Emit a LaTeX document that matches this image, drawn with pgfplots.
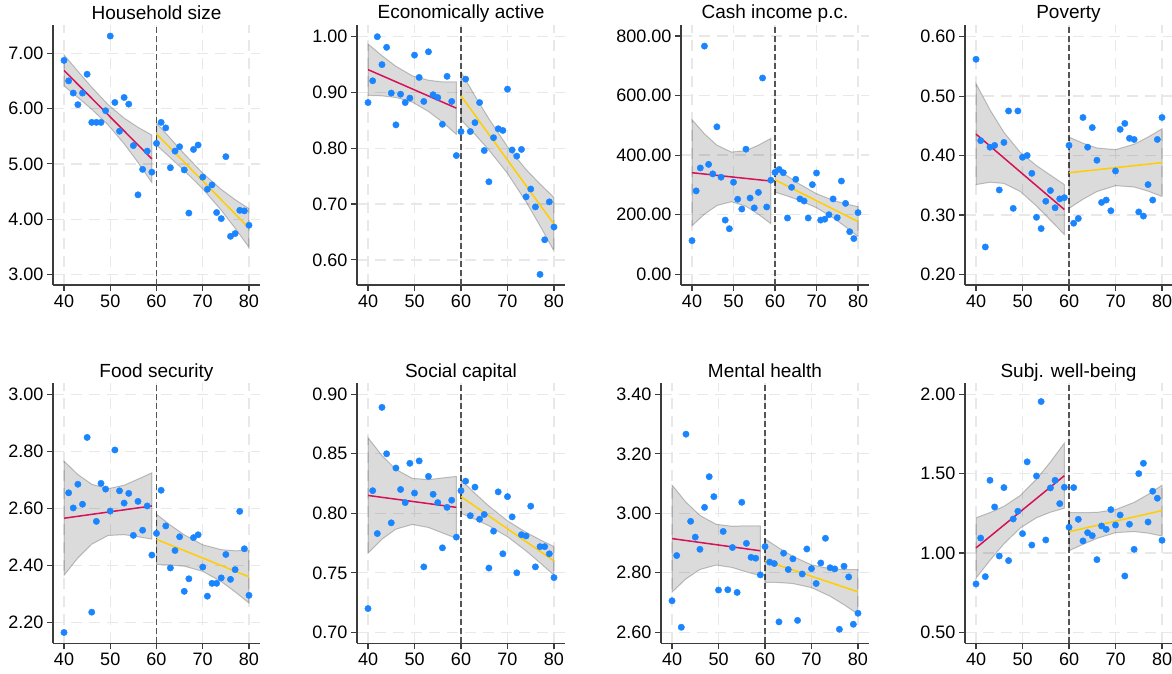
\documentclass[border=0pt]{standalone}
\usepackage{fontspec}
\setmainfont{Liberation Sans}
\usepackage{pgfplots}
\pgfplotsset{compat=1.18}
\definecolor{cdot}{RGB}{26,133,255}
\definecolor{cred}{RGB}{212,17,89}
\definecolor{cyel}{RGB}{255,205,0}
\definecolor{cgrid}{RGB}{232,232,232}
\definecolor{caxis}{RGB}{60,60,60}
\definecolor{ccut}{RGB}{85,85,85}
\pgfplotsset{
 every axis title/.style={at={(0.5,1)}, anchor=base, font=\fontsize{19}{22}\selectfont},
 rd/.style={
  scale only axis, height=260pt, anchor=south west,
  axis x line*=bottom, axis y line*=left,
  axis line style={caxis, line width=1.2pt},
  tick style={caxis, line width=1.2pt},
  tick align=outside, major tick length=6pt,
  xtick={40,50,60,70,80},
  grid=major,
  major grid style={cgrid, line width=1.3pt, dash pattern=on 11pt off 7pt},
  /pgf/number format/assume math mode=true,
  tick label style={font=\fontsize{18}{20}\selectfont, text=black},
  yticklabel style={/pgf/number format/fixed, /pgf/number format/fixed zerofill, /pgf/number format/precision=2},
  xticklabel style={/pgf/number format/fixed, /pgf/number format/precision=0},
  title style={yshift=6pt},
 },
 dots/.style={only marks, color=cdot, mark=*, mark size=3.2pt, mark options={solid, draw=cdot, fill=cdot, line width=0.4pt}},
 band/.style={fill=black, fill opacity=0.14, draw=black, draw opacity=0.22, line width=1pt},
 lred/.style={cred, line width=1.5pt},
 lyel/.style={cyel, line width=1.5pt},
 cut/.style={ccut, line width=1.8pt, dash pattern=on 6pt off 3pt},
}
\begin{document}
\begin{tikzpicture}
\useasboundingbox (0pt,0pt) rectangle (1172pt,673pt);

% Panel 1
\begin{axis}[rd, at={(53pt,388pt)}, width=207pt, xmin=37.62, xmax=82.38, ymin=2.81, ymax=7.51,
  ytick={3,4,5,6,7}, title={Household size}]
\addplot[cut] coordinates {(60,2.81)(60,7.51)};
\addplot[dots] coordinates {(40,6.87)(41,6.50)(42,6.28)(43,6.07)(44,6.28)(45,6.62)(46,5.75)(47,5.75)(48,5.75)(49,5.96)(50,7.31)(51,6.11)(52,5.59)(53,6.20)(54,6.08)(55,5.33)(56,4.44)(57,4.90)(58,5.23)(59,4.85)(60,5.37)(61,5.75)(62,5.65)(63,4.93)(64,5.23)(65,5.31)(66,4.89)(67,4.11)(68,5.26)(69,5.34)(70,4.76)(71,4.54)(72,4.62)(73,4.12)(74,4.01)(75,5.13)(76,3.69)(77,3.74)(78,4.16)(79,4.15)(80,3.89)};
\addplot[band] coordinates {(40,6.97)(43,6.675)(46,6.384)(49.5,6.074)(53,5.827)(56,5.661)(59,5.52)(59,4.66)(56,5.025)(53,5.363)(49.5,5.706)(46,5.986)(43,6.199)(40,6.41)} --cycle;
\addplot[band] coordinates {(60,5.74)(63,5.461)(66,5.182)(70,4.832)(74,4.539)(77,4.354)(80,4.19)(80,3.49)(77,3.836)(74,4.161)(70,4.548)(66,4.878)(63,5.109)(60,5.34)} --cycle;
\addplot[lred] coordinates {(40,6.69)(59,5.09)};
\addplot[lyel] coordinates {(60,5.54)(80,3.84)};
\end{axis}

% Panel 2
\begin{axis}[rd, at={(357pt,388pt)}, width=208pt, xmin=37.63, xmax=82.37, ymin=0.555, ymax=1.021,
  ytick={0.6,0.7,0.8,0.9,1.0}, title={Economically active}]
\addplot[cut] coordinates {(60,0.555)(60,1.021)};
\addplot[dots] coordinates {(40,.882)(41,.921)(42,1.000)(43,.950)(44,.981)(45,.899)(46,.842)(47,.897)(48,.882)(49,.890)(50,.967)(51,.927)(52,.884)(53,.973)(54,.896)(55,.891)(56,.843)(57,.929)(58,.884)(59,.787)(60,.830)(61,.924)(62,.830)(63,.846)(64,.882)(65,.796)(66,.740)(67,.819)(68,.835)(69,.832)(70,.906)(71,.797)(72,.786)(73,.798)(74,.713)(75,.727)(76,.695)(77,.574)(78,.636)(79,.704)(80,.659)};
\addplot[band] coordinates {(40,.987)(43,.966)(46,.947)(49.5,.930)(53,.922)(56,.919)(59,.919)(59,.825)(56,.847)(53,.866)(49.5,.883)(46,.891)(43,.894)(40,.895)} --cycle;
\addplot[band] coordinates {(60,.937)(63,.894)(66,.853)(70,.803)(74,.762)(77,.736)(80,.712)(80,.616)(77,.661)(74,.704)(70,.755)(66,.797)(63,.825)(60,.851)} --cycle;
\addplot[lred] coordinates {(40,.941)(59,.872)};
\addplot[lyel] coordinates {(60,.894)(80,.664)};
\end{axis}

% Panel 3
\begin{axis}[rd, at={(681pt,388pt)}, width=188pt, xmin=37.35, xmax=82.65, ymin=-35.9, ymax=836.9,
  ytick={0,200,400,600,800}, title={Cash income p.c.}]
\addplot[cut] coordinates {(60,-35.9)(60,836.9)};
\addplot[dots] coordinates {(40,113)(41,280)(42,357)(43,766)(44,369)(45,337)(46,495)(47,326)(48,182)(49,153)(50,309)(51,252)(52,219)(53,420)(54,256)(55,223)(56,275)(57,659)(58,226)(59,316)(60,342)(61,352)(62,341)(63,189)(64,292)(65,319)(66,253)(67,246)(68,189)(69,301)(70,340)(71,182)(72,185)(73,200)(74,253)(75,190)(76,313)(77,238)(78,143)(79,120)(80,207)};
\addplot[band] coordinates {(40,519)(43,471.5)(46,433.5)(49.5,410.3)(53,415.3)(56,433.5)(59,456)(59,170)(56,201.3)(53,228.3)(49.5,243.7)(46,230.9)(43,201.7)(40,163)} --cycle;
\addplot[band] coordinates {(60,358)(63,329.5)(66,302.1)(70,270.6)(74,248.4)(77,236.5)(80,227)(80,127)(77,159.5)(74,189.6)(70,223.4)(66,247.9)(63,262.5)(60,276)} --cycle;
\addplot[lred] coordinates {(40,341)(59,313)};
\addplot[lyel] coordinates {(60,317)(80,177)};
\end{axis}

% Panel 4
\begin{axis}[rd, at={(965pt,388pt)}, width=207pt, xmin=37.63, xmax=82.15, ymin=0.182, ymax=0.6197,
  ytick={0.2,0.3,0.4,0.5,0.6}, title={Poverty}]
\addplot[cut] coordinates {(60,0.182)(60,0.6197)};
\addplot[dots] coordinates {(40,.562)(41,.425)(42,.246)(43,.414)(44,.417)(45,.342)(46,.422)(47,.475)(48,.311)(49,.475)(50,.397)(51,.400)(52,.370)(53,.296)(54,.277)(55,.323)(56,.341)(57,.312)(58,.327)(59,.329)(60,.417)(61,.286)(62,.294)(63,.464)(64,.414)(65,.447)(66,.392)(67,.321)(68,.325)(69,.307)(70,.374)(71,.444)(72,.454)(73,.429)(74,.427)(75,.305)(76,.298)(77,.351)(78,.325)(79,.427)(80,.464)};
\addplot[band] coordinates {(40,.521)(43,.477)(46,.439)(49.5,.4055)(53,.383)(56,.367)(59,.351)(59,.267)(56,.291)(53,.315)(49.5,.3395)(46,.353)(43,.355)(40,.351)} --cycle;
\addplot[band] coordinates {(60,.431)(63,.4207)(66,.4127)(70,.4098)(74,.419)(77,.431)(80,.445)(80,.331)(77,.340)(74,.347)(70,.3492)(66,.3393)(63,.3263)(60,.311)} --cycle;
\addplot[lred] coordinates {(40,.436)(59,.309)};
\addplot[lyel] coordinates {(60,.371)(80,.388)};
\end{axis}

% Panel 5
\begin{axis}[rd, at={(53pt,29.7pt)}, width=207pt, xmin=37.62, xmax=82.38, ymin=2.128, ymax=3.0385,
  ytick={2.2,2.4,2.6,2.8,3.0}, title={Food security}]
\addplot[cut] coordinates {(60,2.128)(60,3.0385)};
\addplot[dots] coordinates {(40,2.166)(41,2.655)(42,2.602)(43,2.685)(44,2.615)(45,2.849)(46,2.237)(47,2.555)(48,2.688)(49,2.668)(50,2.591)(51,2.805)(52,2.662)(53,2.619)(54,2.653)(55,2.506)(56,2.625)(57,2.524)(58,2.609)(59,2.437)(60,2.513)(61,2.664)(62,2.539)(63,2.392)(64,2.453)(65,2.501)(66,2.310)(67,2.354)(68,2.498)(69,2.508)(70,2.395)(71,2.293)(72,2.338)(73,2.338)(74,2.357)(75,2.439)(76,2.352)(77,2.386)(78,2.590)(79,2.459)(80,2.296)};
\addplot[band] coordinates {(40,2.766)(43,2.719)(46,2.685)(49.5,2.6695)(53,2.6815)(56,2.703)(59,2.725)(59,2.493)(56,2.501)(53,2.5085)(49.5,2.5055)(46,2.475)(43,2.427)(40,2.366)} --cycle;
\addplot[band] coordinates {(60,2.580)(63,2.542)(66,2.508)(70,2.473)(74,2.456)(77,2.452)(80,2.453)(80,2.269)(77,2.308)(74,2.344)(70,2.380)(66,2.398)(63,2.402)(60,2.404)} --cycle;
\addplot[lred] coordinates {(40,2.566)(59,2.609)};
\addplot[lyel] coordinates {(60,2.492)(80,2.361)};
\end{axis}

% Panel 6
\begin{axis}[rd, at={(357pt,29.7pt)}, width=208pt, xmin=37.63, xmax=82.37, ymin=0.6908, ymax=0.9092,
  ytick={0.70,0.75,0.80,0.85,0.90}, title={Social capital}]
\addplot[cut] coordinates {(60,0.6908)(60,0.9092)};
\addplot[dots] coordinates {(40,.720)(41,.819)(42,.783)(43,.889)(44,.850)(45,.792)(46,.838)(47,.820)(48,.809)(49,.842)(50,.817)(51,.844)(52,.755)(53,.831)(54,.816)(55,.809)(56,.771)(57,.805)(58,.811)(59,.780)(60,.819)(61,.827)(62,.798)(63,.822)(64,.795)(65,.799)(66,.754)(67,.785)(68,.818)(69,.766)(70,.814)(71,.797)(72,.750)(73,.782)(74,.781)(75,.806)(76,.755)(77,.772)(78,.772)(79,.766)(80,.746)};
\addplot[band] coordinates {(40,.8635)(43,.8485)(46,.8369)(49.5,.8294)(53,.8283)(56,.8297)(59,.831)(59,.779)(56,.7835)(53,.7881)(49.5,.7906)(46,.7867)(43,.7783)(40,.7665)} --cycle;
\addplot[band] coordinates {(60,.828)(63,.8168)(66,.8061)(70,.7937)(74,.7840)(77,.7778)(80,.772)(80,.748)(77,.7584)(74,.7684)(70,.7803)(66,.7895)(63,.7950)(60,.800)} --cycle;
\addplot[lred] coordinates {(40,.815)(59,.805)};
\addplot[lyel] coordinates {(60,.814)(80,.760)};
\end{axis}

% Panel 7
\begin{axis}[rd, at={(661pt,29.7pt)}, width=208pt, xmin=37.63, xmax=82.37, ymin=2.563, ymax=3.437,
  ytick={2.6,2.8,3.0,3.2,3.4}, title={Mental health}]
\addplot[cut] coordinates {(60,2.563)(60,3.437)};
\addplot[dots] coordinates {(40,2.706)(41,2.858)(42,2.617)(43,3.266)(44,2.973)(45,2.920)(46,2.879)(47,3.020)(48,3.123)(49,3.056)(50,2.742)(51,2.939)(52,2.743)(53,2.885)(54,2.734)(55,3.037)(56,2.899)(57,2.852)(58,2.849)(59,2.793)(60,2.888)(61,2.836)(62,2.831)(63,2.635)(64,2.866)(65,2.811)(66,2.847)(67,2.640)(68,2.796)(69,2.880)(70,2.814)(71,2.764)(72,2.833)(73,2.916)(74,2.817)(75,2.813)(76,2.610)(77,2.822)(78,2.786)(79,2.627)(80,2.664)};
\addplot[band] coordinates {(40,3.095)(43,3.0374)(46,2.9929)(49.5,2.963)(53,2.9564)(56,2.9581)(59,2.958)(59,2.790)(56,2.8029)(53,2.8176)(49.5,2.826)(46,2.8111)(43,2.7796)(40,2.735)} --cycle;
\addplot[band] coordinates {(60,2.914)(63,2.8833)(66,2.8552)(70,2.8268)(74,2.8137)(77,2.811)(80,2.811)(80,2.661)(77,2.6926)(74,2.7213)(70,2.7502)(66,2.7638)(63,2.7673)(60,2.768)} --cycle;
\addplot[lred] coordinates {(40,2.915)(59,2.874)};
\addplot[lyel] coordinates {(60,2.841)(80,2.736)};
\end{axis}

% Panel 8
\begin{axis}[rd, at={(965pt,29.7pt)}, width=207pt, xmin=37.63, xmax=82.15, ymin=0.431, ymax=2.069,
  ytick={0.5,1.0,1.5,2.0}, title={Subj. well-being}]
\addplot[cut] coordinates {(60,0.431)(60,2.069)};
\addplot[dots] coordinates {(40,.805)(41,1.094)(42,.851)(43,1.458)(44,1.290)(45,.981)(46,1.412)(47,.952)(48,1.214)(49,1.263)(50,1.122)(51,1.574)(52,1.050)(53,1.485)(54,1.954)(55,1.082)(56,1.410)(57,1.458)(58,1.311)(59,1.414)(60,1.162)(61,1.412)(62,1.212)(63,1.076)(64,1.128)(65,1.109)(66,.958)(67,1.170)(68,1.149)(69,1.273)(70,1.176)(71,1.239)(72,.855)(73,1.181)(74,1.023)(75,1.500)(76,1.565)(77,1.195)(78,1.389)(79,1.345)(80,1.080)};
\addplot[band] coordinates {(40,1.222)(43,1.2544)(46,1.2939)(49.5,1.362)(53,1.465)(56,1.5736)(59,1.692)(59,1.282)(56,1.2568)(53,1.2218)(49.5,1.157)(46,1.0575)(43,.9534)(40,.842)} --cycle;
\addplot[band] coordinates {(60,1.254)(63,1.2538)(66,1.256)(70,1.273)(74,1.3189)(77,1.369)(80,1.427)(80,1.107)(77,1.125)(74,1.1351)(70,1.128)(66,1.092)(63,1.0542)(60,1.014)} --cycle;
\addplot[lred] coordinates {(40,1.032)(59,1.487)};
\addplot[lyel] coordinates {(60,1.134)(80,1.267)};
\end{axis}
\end{tikzpicture}
\end{document}
